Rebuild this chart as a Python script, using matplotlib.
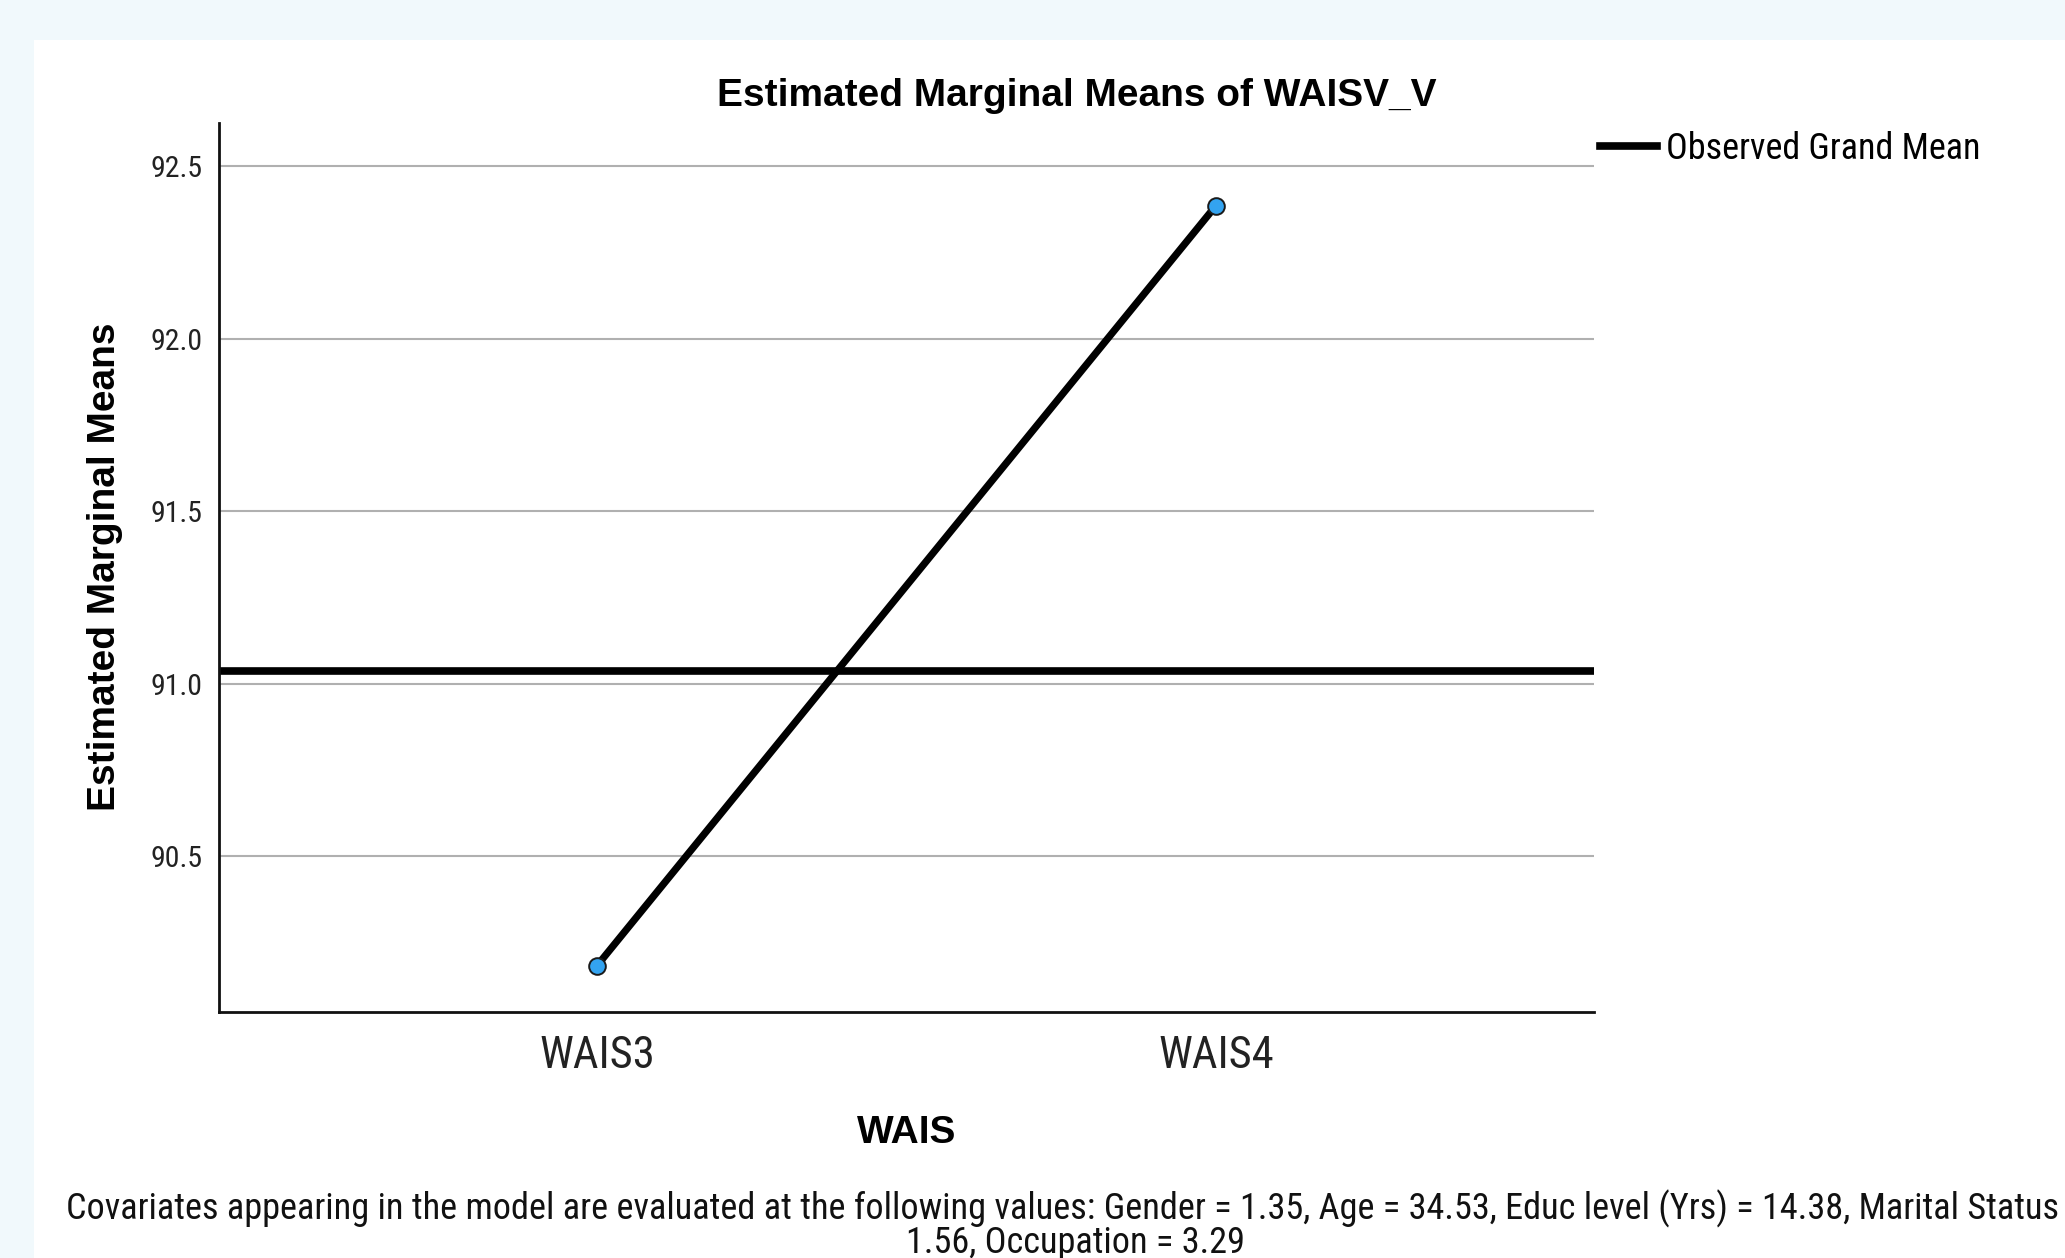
import matplotlib
matplotlib.use("Agg")
import matplotlib.pyplot as plt
from matplotlib.patches import Rectangle
from matplotlib import font_manager

# data
levels = ["WAIS3", "WAIS4"]
means = [90.183, 92.385]
grand_mean = 91.038
yticks = [90.5, 91.0, 91.5, 92.0, 92.5]
footnote = ("Covariates appearing in the model are evaluated at the following values: "
            "Gender = 1.35, Age = 34.53, Educ level (Yrs) = 14.38, Marital Status =\n"
            "1.56, Occupation = 3.29")

# SPSS uses Arial Narrow for most labels; pick the closest narrow face available
names = {f.name for f in font_manager.fontManager.ttflist}
narrow, k = "Liberation Sans", 0.82
for fam, scale in [("Roboto Condensed", 1.0), ("Archivo Narrow", 1.0)]:
    if fam in names:
        narrow, k = fam, scale
        break
bold = "Liberation Sans"

W, H = 2065, 1258
fig = plt.figure(figsize=(W / 100, H / 100), dpi=100, facecolor="#f1f9fc")
# white output panel
fig.patches.append(Rectangle((34 / W, 0), 1, 1 - 40 / H, transform=fig.transFigure,
                             facecolor="white", edgecolor="none", zorder=-5))

ax = fig.add_axes([219 / W, 1 - 1011.5 / H, (1594 - 219) / W, (1011.5 - 122.5) / H])
ax.set_facecolor("white")

x = list(range(len(levels)))
ax.set_xlim(-0.611, 1.611)
ax.set_ylim(90.05, 92.626)

for t in yticks:
    ax.axhline(t, color="#b0b0b0", lw=1.5, zorder=1)

gm = ax.axhline(grand_mean, color="black", lw=5.5, zorder=2, label="Observed Grand Mean")
ax.plot(x, means, color="black", lw=5.2, zorder=3, solid_capstyle="round")
ax.plot(x, means, ls="none", marker="o", ms=12, mfc="#33a3f0", mec="#1a1a1a", mew=1.4, zorder=4)

for s in ["top", "right"]:
    ax.spines[s].set_visible(False)
for s in ["left", "bottom"]:
    ax.spines[s].set_linewidth(2)
    ax.spines[s].set_color("#111111")

ax.set_yticks(yticks)
ax.set_yticklabels([f"{v:.1f}" for v in yticks], fontsize=21.5 * k, family=narrow, color="#222222")
ax.set_xticks(x)
ax.set_xticklabels(levels, fontsize=32 * k, family=narrow, color="#222222")
ax.tick_params(axis="y", length=0, pad=12)
ax.tick_params(axis="x", length=0, pad=17)

ax.set_ylabel("Estimated Marginal Means", fontsize=28, family=bold, weight="bold")
ax.yaxis.set_label_coords(-0.07, 0.5)
ax.set_xlabel("WAIS", fontsize=28, family=bold, weight="bold")
ax.xaxis.set_label_coords(0.5, -0.116)

fig.text(0.5215, 0.924, "Estimated Marginal Means of WAISV_V", fontsize=28, family=bold,
         weight="bold", ha="center", va="center")

fig.legend(handles=[gm], loc="center left", bbox_to_anchor=(1600 / W, 1 - 149 / H),
           frameon=False, prop={"family": narrow, "size": 26 * k},
           handlelength=57 / 36, handletextpad=0.25, borderpad=0, borderaxespad=0)

fig.text(0.521, 0.026, footnote, fontsize=26.1 * k, family=narrow, ha="center", va="center",
         linespacing=0.92, color="#111111")

fig.savefig("out.png", dpi=100, facecolor=fig.get_facecolor())
